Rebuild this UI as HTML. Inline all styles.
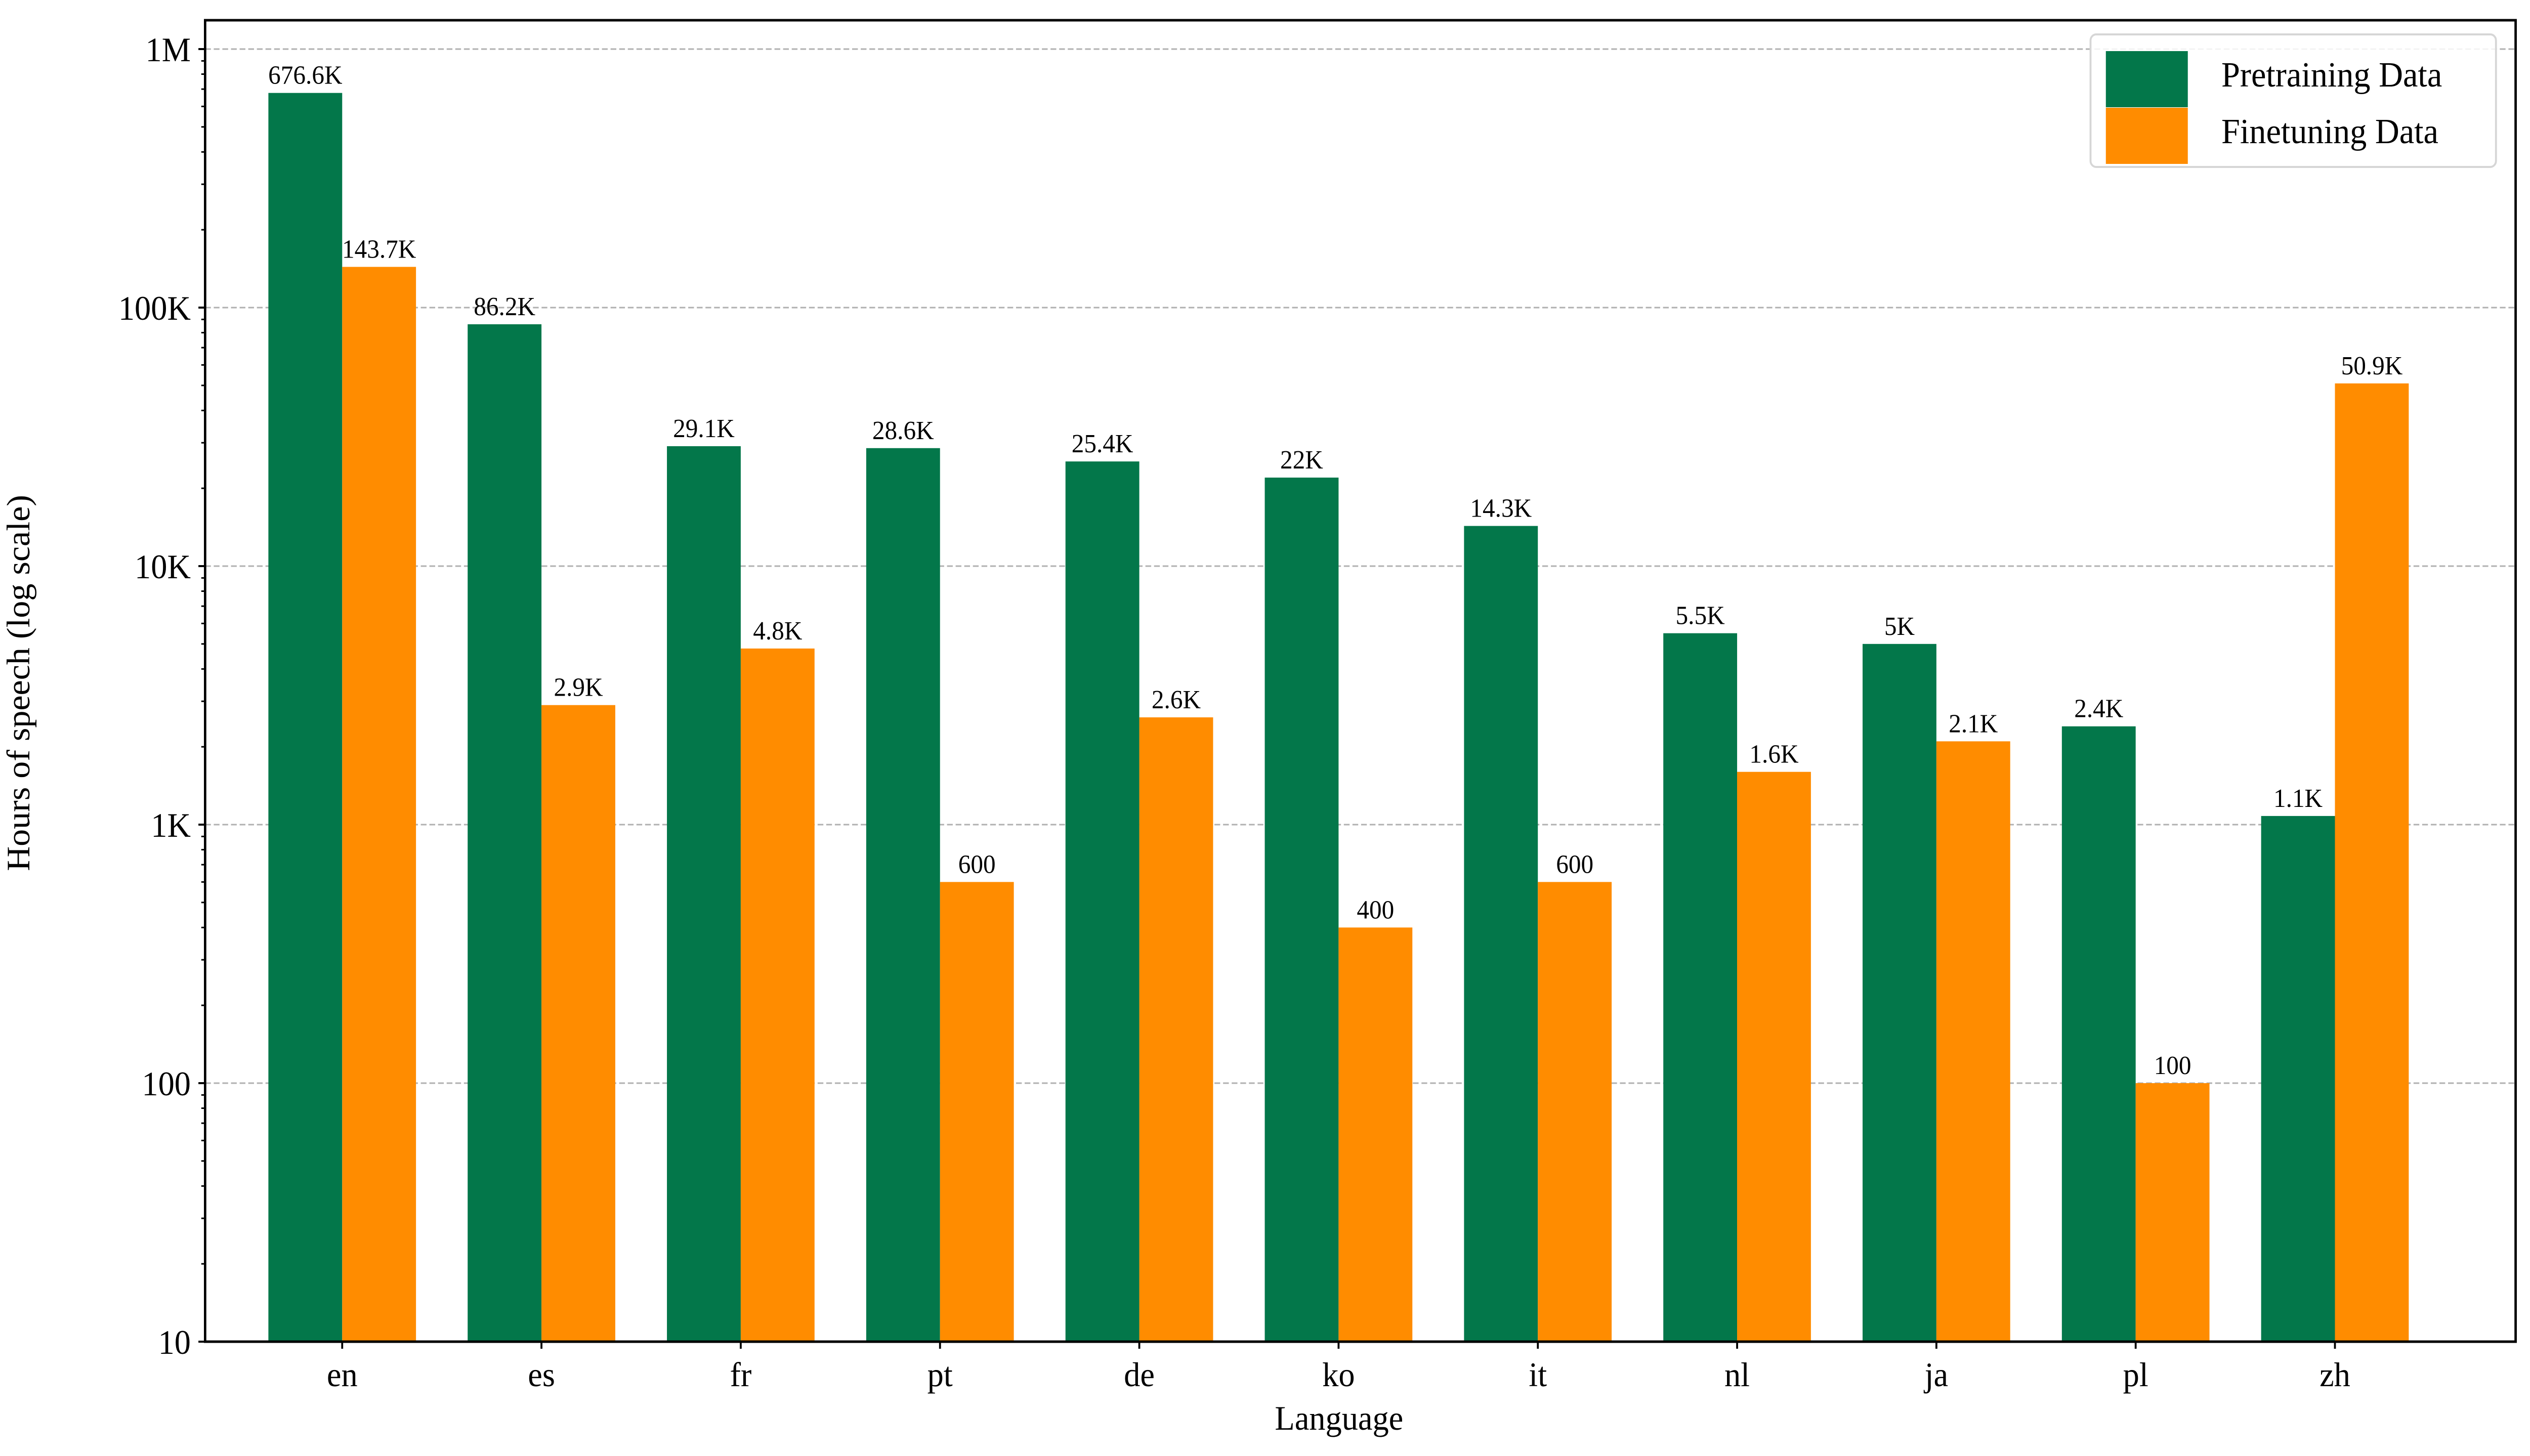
<!DOCTYPE html>
<html><head><meta charset="utf-8"><style>
html,body{margin:0;padding:0;background:#fff;overflow:hidden;width:100%;height:100%}
svg{display:block;width:100vw;height:100vh;font-family:"Liberation Serif","DejaVu Serif",serif}
</style></head><body>
<svg id="chart" viewBox="0 0 5279 2878" preserveAspectRatio="none" xmlns="http://www.w3.org/2000/svg">
<rect x="0" y="0" width="5279" height="2878" fill="#fff"/>
<g id="grid"></g>
<g id="bars"></g>
<g id="labels"></g>
<g id="axes"></g>
<text x="61" y="1350" font-size="68" text-anchor="middle" transform="rotate(-90 61 1350)">Hours of speech (log scale)</text>
<text x="2794" y="2826" font-size="68" text-anchor="middle">Language</text>
<g>
<rect x="4362" y="68" width="846" height="262" rx="12" fill="#fff" fill-opacity="0.85" stroke="#d6d6d6" stroke-width="4"/>
<g>
<rect x="4394" y="101" width="171" height="111" fill="#03774a"/>
<text x="4635" y="155" font-size="70" dominant-baseline="middle">Pretraining Data</text>
</g>
<g>
<rect x="4394" y="213" width="171" height="111" fill="#ff8c00"/>
<text x="4635" y="267" font-size="70" dominant-baseline="middle">Finetuning Data</text>
</g>
</g>
</svg>
<script>
const categories = ["en","es","fr","pt","de","ko","it","nl","ja","pl","zh"];
const pretrainValues = [676600, 86200, 29100, 28600, 25400, 22000, 14300, 5500, 5000, 2400, 1080];
const finetuneValues = [143700, 2900, 4800, 600, 2600, 400, 600, 1600, 2100, 100, 50900];
const pretrainLabels = ["676.6K","86.2K","29.1K","28.6K","25.4K","22K","14.3K","5.5K","5K","2.4K","1.1K"];
const finetuneLabels = ["143.7K","2.9K","4.8K","600","2.6K","400","600","1.6K","2.1K","100","50.9K"];
const yTickValues = [10, 100, 1000, 10000, 100000, 1000000];
const yTickLabels = ["10","100","1K","10K","100K","1M"];

const NS = "http://www.w3.org/2000/svg";
const plotL = 428, plotR = 5249, plotT = 40, plotB = 2652;
const x0 = 714, step = 415.8, barW = 154;
const yMinLog = 1, pxPerDecade = 511;
function xScale(i){ return x0 + i*step; }
function yScale(v){ return plotB - (Math.log10(v) - yMinLog)*pxPerDecade; }
function mk(tag, attrs, parent){
  const e = document.createElementNS(NS, tag);
  for (const k in attrs) e.setAttribute(k, attrs[k]);
  parent.appendChild(e);
  return e;
}
const grid = document.getElementById('grid');
const bars = document.getElementById('bars');
const labels = document.getElementById('labels');
const axes = document.getElementById('axes');

yTickValues.forEach((v, i) => {
  const y = yScale(v);
  if (i > 0) {
    const g = mk('line', {x1: plotL, x2: plotR, y1: y, y2: y, stroke: '#b0b0b0', 'stroke-width': 3, 'stroke-dasharray': '12,6'}, grid);
    
    
  }
  const t = mk('line', {x1: plotL - 14, x2: plotL, y1: y, y2: y, stroke: '#000', 'stroke-width': 4}, axes);
  
  
  const lb = mk('text', {x: plotL - 30, y: y + 24, 'font-size': 68, 'text-anchor': 'end'}, axes);
  lb.textContent = yTickLabels[i];
  
  
  if (i < yTickValues.length - 1) {
    for (let m = 2; m <= 9; m++) {
      const ym = yScale(v*m);
      const mt = mk('line', {x1: plotL - 8, x2: plotL, y1: ym, y2: ym, stroke: '#000', 'stroke-width': 3}, axes);
      
      
    }
  }
});

categories.forEach((c, i) => {
  const cx = xScale(i);
  const yp = yScale(pretrainValues[i]);
  const bp = mk('rect', {x: cx - barW, y: yp, width: barW, height: plotB - yp, fill: '#03774a'}, bars);
  
  
  const yf = yScale(finetuneValues[i]);
  const bf = mk('rect', {x: cx, y: yf, width: barW, height: plotB - yf, fill: '#ff8c00'}, bars);
  
  
  const lp = mk('text', {x: cx - barW/2, y: yp - 18, 'font-size': 52, 'text-anchor': 'middle'}, labels);
  lp.textContent = pretrainLabels[i];
  
  
  const lf = mk('text', {x: cx + barW/2, y: yf - 18, 'font-size': 52, 'text-anchor': 'middle'}, labels);
  lf.textContent = finetuneLabels[i];
  
  
  const xt = mk('line', {x1: cx, x2: cx, y1: plotB, y2: plotB + 14, stroke: '#000', 'stroke-width': 4}, axes);
  
  
  const xl = mk('text', {x: cx, y: 2740, 'font-size': 68, 'text-anchor': 'middle'}, axes);
  xl.textContent = c;
  
  
});

const frame = mk('rect', {x: plotL, y: plotT, width: plotR - plotL, height: plotB - plotT, fill: 'none', stroke: '#000', 'stroke-width': 5}, axes);


</script>
</body></html>
